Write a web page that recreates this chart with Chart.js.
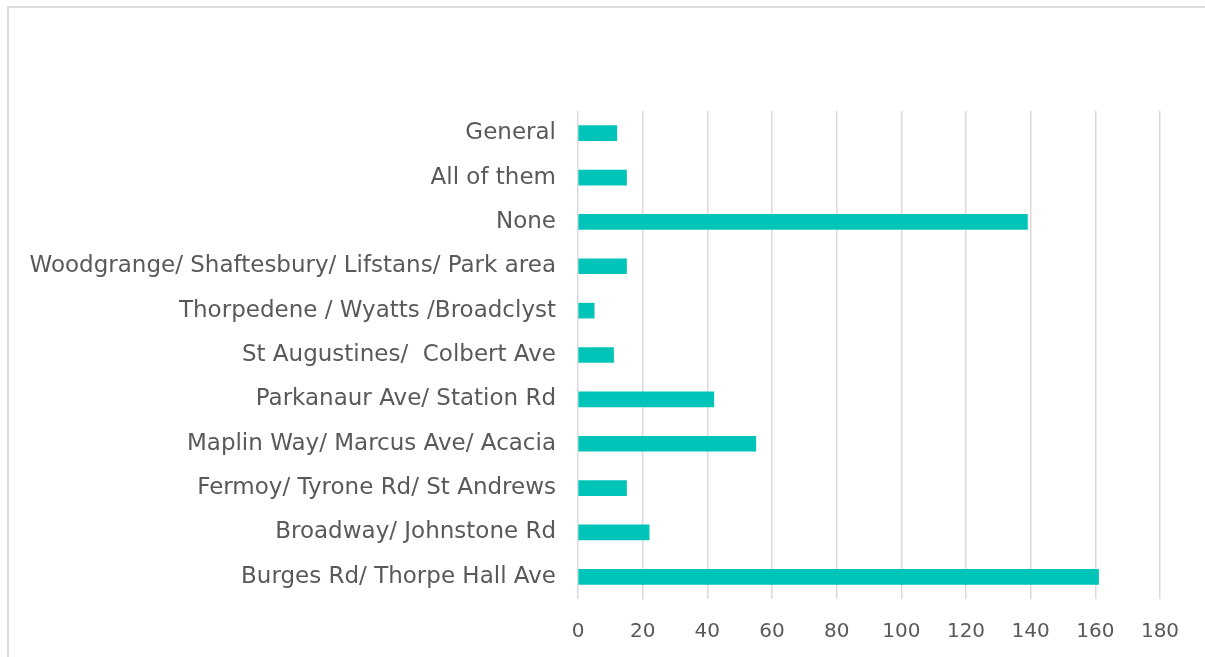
<!DOCTYPE html>
<html>
<head>
<meta charset="utf-8">
<script src="https://cdn.jsdelivr.net/npm/chart.js@4.4.1/dist/chart.umd.min.js"></script>
<style>
    html, body { margin: 0; padding: 0; background: #fff; }
    #wrap { position: relative; width: 1205px; height: 657px; }
    #frame {
        position: absolute; left: 7px; top: 6px; right: 0; bottom: 0;
        border-top: 2px solid #dcdcdc; border-left: 2px solid #dcdcdc;
    }
    #chart { position: absolute; left: 0; top: 0; }
</style>
</head>
<body>
<div id="wrap">
    <div id="frame"></div>
    <canvas id="chart" width="1205" height="657"></canvas>
</div>
<script>
// Категории и значения
const areas = [
    'General',
    'All of them',
    'None',
    'Woodgrange/ Shaftesbury/ Lifstans/ Park area',
    'Thorpedene / Wyatts /Broadclyst',
    'St Augustines/  Colbert Ave',
    'Parkanaur Ave/ Station Rd',
    'Maplin Way/ Marcus Ave/ Acacia',
    'Fermoy/ Tyrone Rd/ St Andrews',
    'Broadway/ Johnstone Rd',
    'Burges Rd/ Thorpe Hall Ave'
];
const counts = [12, 15, 139, 15, 5, 11, 42, 55, 15, 22, 161];
const xTicks = [0, 20, 40, 60, 80, 100, 120, 140, 160, 180];

const textColor = '#595959';
const gridColor = '#d9d9d9';
const labelFont = { family: '"DejaVu Sans", sans-serif', size: 23 };
const tickFont = { family: '"DejaVu Sans", sans-serif', size: 20 };

new Chart(document.getElementById('chart'), {
    type: 'bar',
    data: {
        labels: areas,
        datasets: [{
            data: counts,
            backgroundColor: '#00c4b8',
            barThickness: 15
        }]
    },
    options: {
        indexAxis: 'y',
        responsive: false,
        animation: false,
        layout: { padding: { top: 111, right: 45, bottom: 0, left: 0 } },
        plugins: {
            legend: { display: false },
            tooltip: { enabled: false }
        },
        scales: {
            x: {
                min: 0,
                max: 180,
                afterBuildTicks: scale => {
                    scale.ticks = xTicks.map(v => ({ value: v }));
                },
                afterFit: scale => { scale.height = 58; },
                grid: { color: gridColor, lineWidth: 1.5, drawTicks: false },
                border: { display: false },
                ticks: { color: textColor, font: tickFont, padding: 21 }
            },
            y: {
                afterFit: scale => { scale.width = 578; },
                grid: { display: false },
                border: { display: false },
                ticks: { color: textColor, font: labelFont, padding: 14, autoSkip: false }
            }
        }
    }
});
</script>
</body>
</html>
